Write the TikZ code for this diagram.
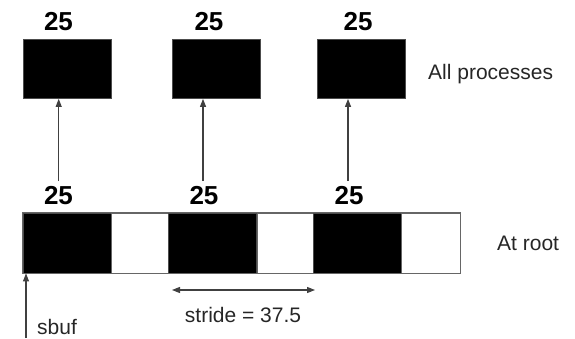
\documentclass[tikz,border=0pt]{standalone}
\usepackage{fontspec}
\setmainfont{Liberation Sans}
\usetikzlibrary{arrows.meta}
\begin{document}
\begin{tikzpicture}[x=1pt,y=-1pt,
  blk/.style={draw=black!70,line width=0.8pt,fill=black,minimum width=88pt,minimum height=59pt,inner sep=0pt,anchor=center},
  gap/.style={draw=black!60,line width=0.8pt,fill=white,minimum height=60pt,inner sep=0pt},
  cnt/.style={font=\bfseries\fontsize{26}{26}\selectfont,inner sep=0pt},
  lbl/.style={font=\fontsize{21}{21}\selectfont,text=black!85,inner sep=0pt},
  arr/.style={draw=black!75,line width=1.1pt,-{Triangle[width=6pt,length=8pt]}},
  darr/.style={draw=black!75,line width=1.1pt,{Triangle[width=6pt,length=8pt]}-{Triangle[width=6pt,length=8pt]}}]
\useasboundingbox (0,0) rectangle (575,338);
% per-process receive buffers
\node[blk] (t1) at (67,69) {};
\node[blk] (t2) at (216,69) {};
\node[blk] (t3) at (361,69) {};
\node[cnt] (tl1) at (58.5,22) {25};
\node[cnt] (tl2) at (209,22) {25};
\node[cnt] (tl3) at (358,22) {25};
\node[lbl,anchor=west] (allp) at (428,74) {All processes};
% send buffer at the root
\node[blk,minimum height=60pt] (b1) at (67,243) {};
\node[gap,minimum width=57pt] (w1) at (139.5,243) {};
\node[blk,minimum height=60pt] (b2) at (212.5,243) {};
\node[gap,minimum width=57pt] (w2) at (285.5,243) {};
\node[blk,minimum height=60pt] (b3) at (357.5,243) {};
\node[gap,minimum width=59pt] (w3) at (430.5,243) {};
\draw[draw=black!60,line width=0.8pt] (b1.north west) rectangle (w3.south east);
\node[cnt] (bl1) at (58.5,196) {25};
\node[cnt] (bl2) at (204,196) {25};
\node[cnt] (bl3) at (349,196) {25};
\node[lbl,anchor=west] (root) at (497,243) {At root};
% scatter arrows
\coordinate (a1) at (58.7,181);
\coordinate (a2) at (203,181);
\coordinate (a3) at (348,181);
\draw[arr] (a1) -- (a1 |- t1.south);
\draw[arr] (a2) -- (a2 |- t2.south);
\draw[arr] (a3) -- (a3 |- t3.south);
% stride
\coordinate (s1) at (172,290);
\coordinate (s2) at (315,290);
\draw[darr] (s1) -- (s2);
\node[lbl] (stride) at (243,315) {stride = 37.5};
% sbuf pointer
\coordinate (p0) at (26,338);
\draw[arr] (p0) -- (p0 |- b1.south);
\node[lbl,anchor=west] (sbuf) at (37,327) {sbuf};
\end{tikzpicture}
\end{document}
